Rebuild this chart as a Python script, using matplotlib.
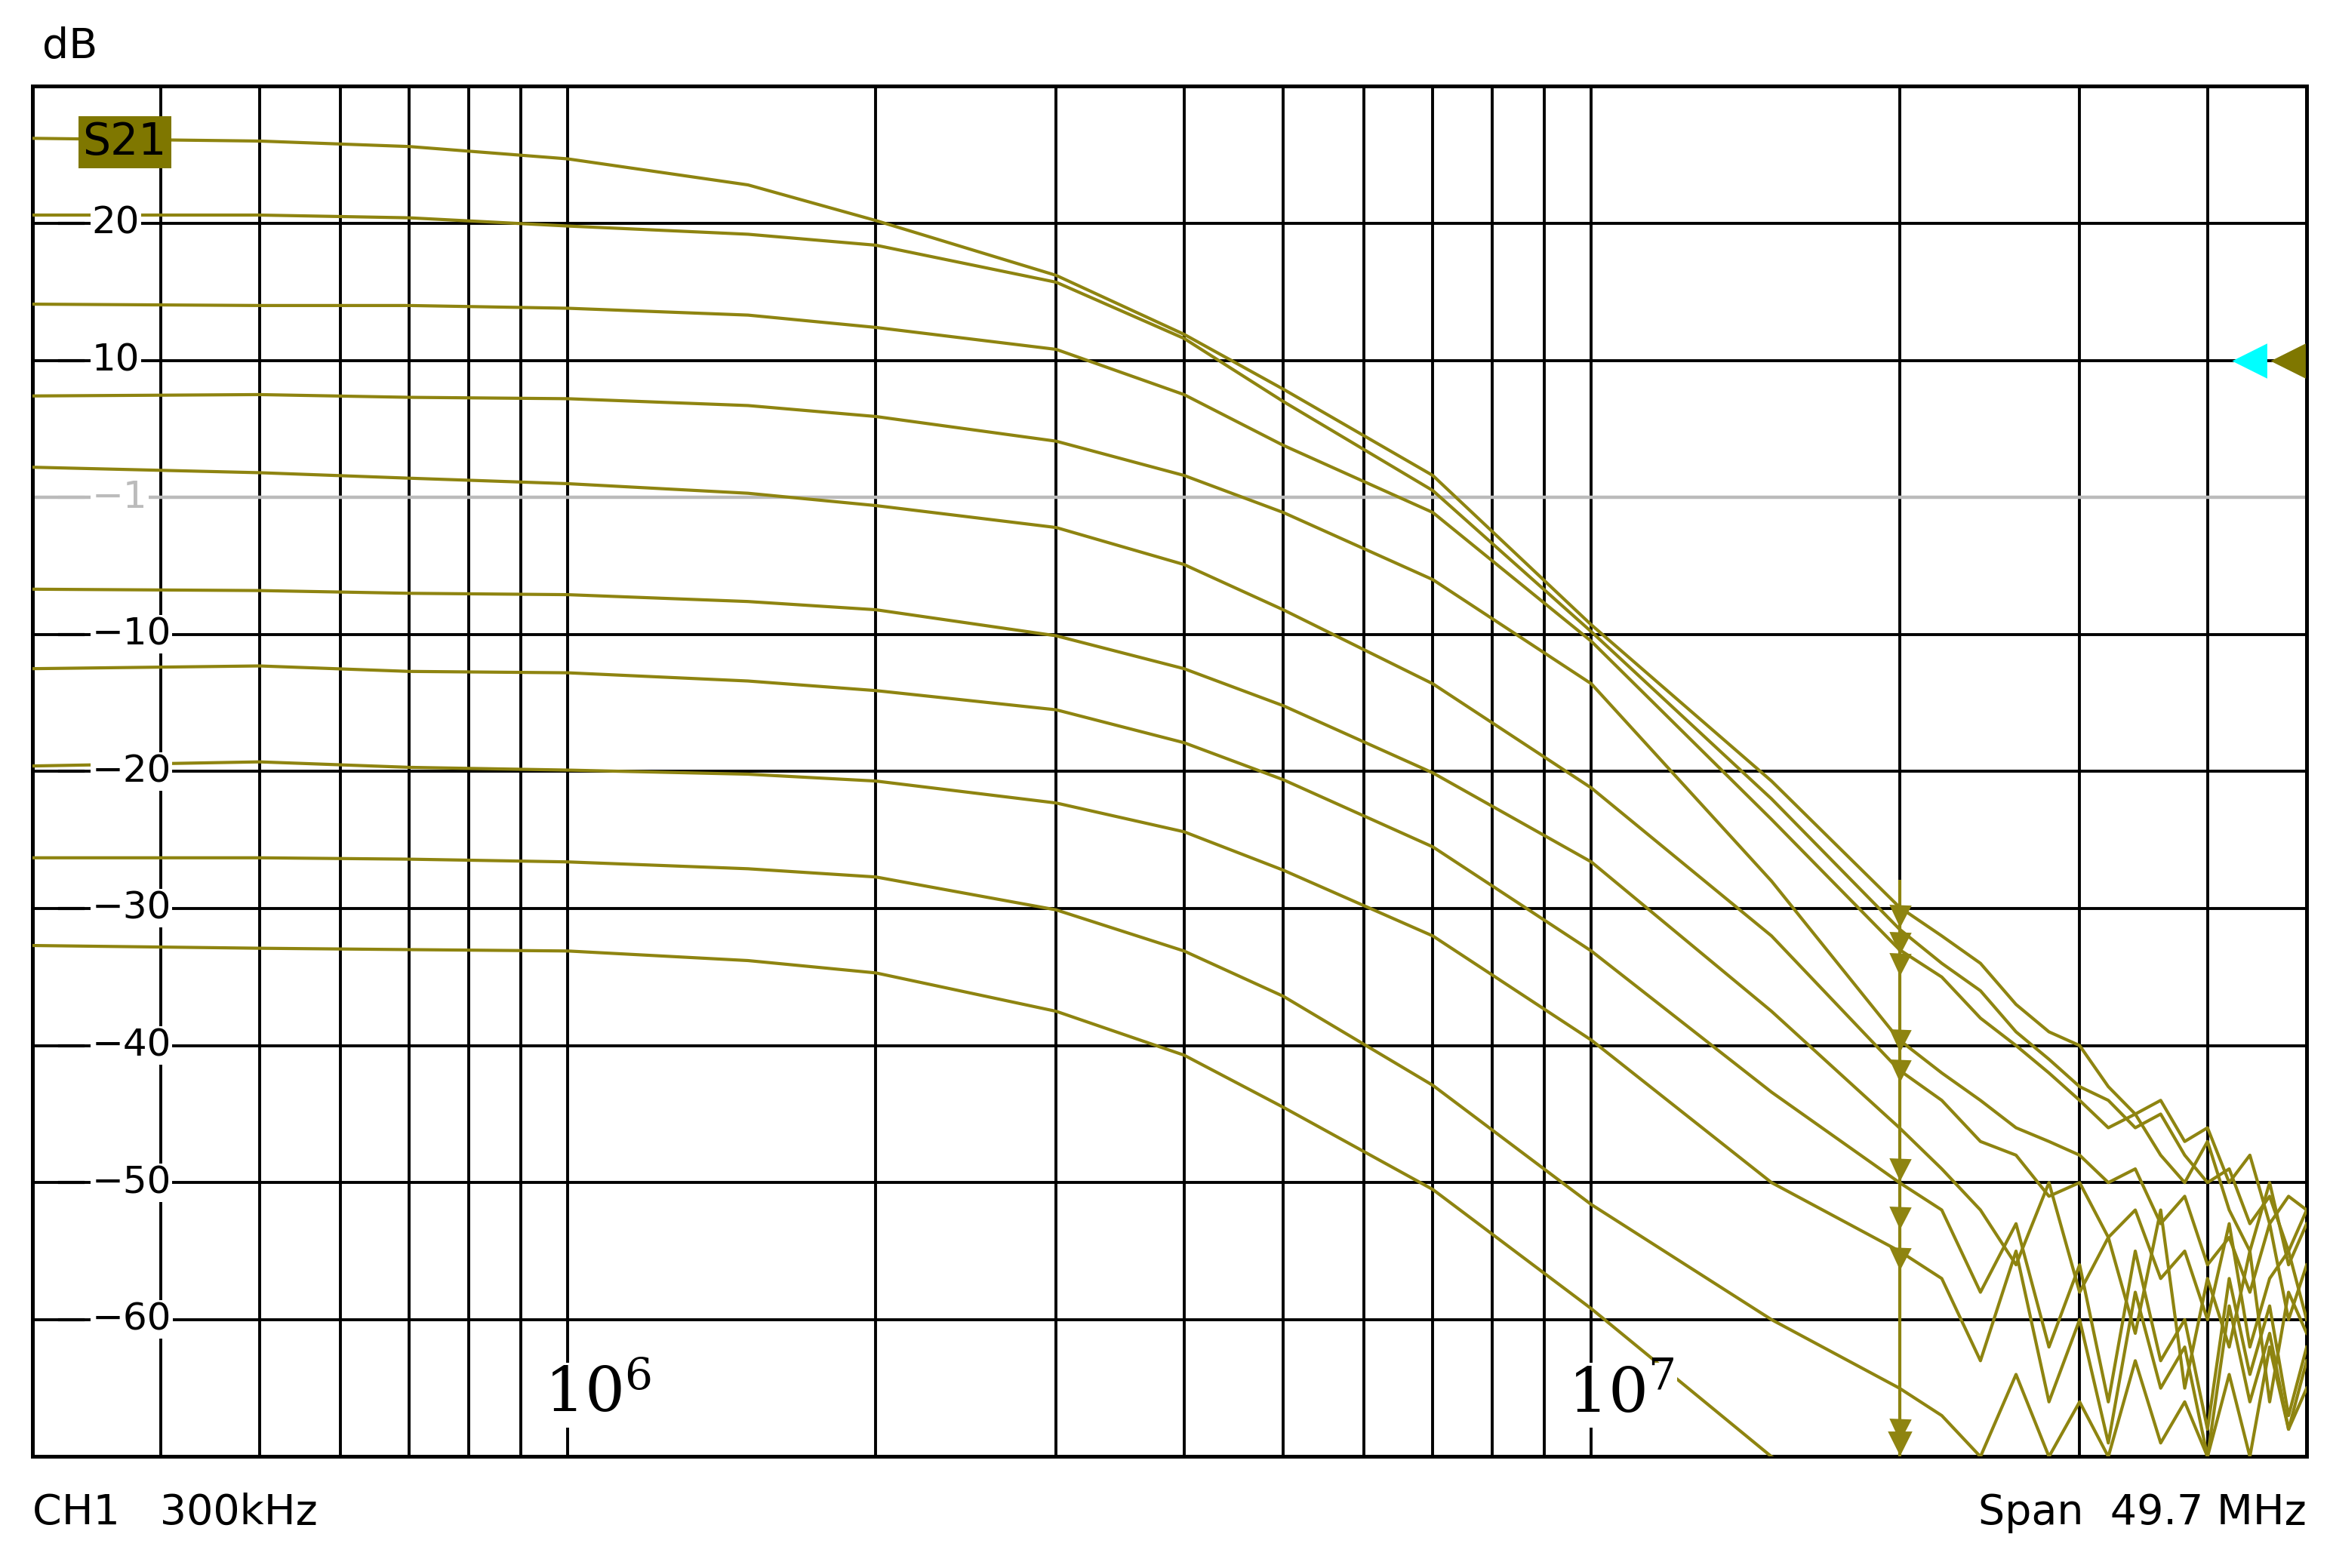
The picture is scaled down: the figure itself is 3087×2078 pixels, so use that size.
import matplotlib
matplotlib.use("Agg")
import matplotlib.pyplot as plt
import numpy as np

plt.rcParams["mathtext.fontset"] = "dejavuserif"

# frequencies (Hz) for the smooth part of each trace
freqs = [3e5, 5e5, 7e5, 1e6, 1.5e6, 2e6, 3e6, 4e6, 5e6, 7e6, 1e7, 1.5e7, 2e7]
curve_a = [26.2, 26.0, 25.6, 24.7, 22.8, 20.2, 16.2, 11.9, 7.9, 1.6, -9.3, -20.7, -29.9]
curve_b = [20.6, 20.6, 20.4, 19.8, 19.2, 18.4, 15.7, 11.6, 7.0, 0.5, -9.8, -22.0, -31.5]
curve_c = [14.1, 14.0, 14.0, 13.8, 13.3, 12.4, 10.8, 7.5, 3.8, -1.1, -10.5, -23.5, -33.0]
curve_d = [7.4, 7.5, 7.3, 7.2, 6.7, 5.9, 4.1, 1.6, -1.1, -6.0, -13.6, -28.0, -39.6]
curve_e = [2.2, 1.8, 1.4, 1.0, 0.3, -0.6, -2.2, -4.9, -8.2, -13.6, -21.2, -32.0, -41.8]
curve_f = [-6.7, -6.8, -7.0, -7.1, -7.6, -8.2, -10.1, -12.5, -15.2, -20.1, -26.6, -37.5, -46.0]
curve_g = [-12.5, -12.3, -12.7, -12.8, -13.4, -14.1, -15.5, -17.9, -20.6, -25.5, -33.1, -43.4, -50.0]
curve_h = [-19.6, -19.3, -19.7, -19.9, -20.2, -20.7, -22.3, -24.4, -27.2, -32.0, -39.6, -50.0, -55.0]
curve_i = [-26.3, -26.3, -26.4, -26.6, -27.1, -27.7, -30.1, -33.1, -36.4, -42.9, -51.6, -60.0, -65.0]
curve_j = [-32.7, -32.9, -33.0, -33.1, -33.8, -34.7, -37.5, -40.7, -44.5, -50.5, -59.2, -70.0, -75.0]

# noisy tails beyond 20 MHz (hand-read values)
tail_f = [2.2e7, 2.4e7, 2.6e7, 2.8e7, 3.0e7, 3.2e7, 3.4e7, 3.6e7, 3.8e7, 4.0e7, 4.2e7, 4.4e7, 4.6e7, 4.8e7, 5.0e7]
tail_a = [-32, -34, -37, -39, -40, -43, -45, -44, -47, -46, -50, -48, -53, -51, -52]
tail_b = [-34, -36, -39, -41, -43, -44, -46, -45, -48, -50, -49, -53, -51, -55, -52]
tail_c = [-35, -38, -40, -42, -44, -46, -45, -48, -50, -47, -52, -55, -50, -56, -53]
tail_d = [-42, -44, -46, -47, -48, -50, -49, -53, -51, -56, -54, -58, -53, -60, -56]
tail_e = [-44, -47, -48, -51, -50, -54, -52, -57, -55, -60, -53, -62, -57, -55, -60]
tail_f2 = [-49, -52, -56, -50, -58, -54, -61, -52, -65, -57, -62, -55, -66, -58, -61]
tail_g = [-52, -58, -53, -62, -56, -66, -55, -63, -60, -68, -57, -64, -59, -67, -62]
tail_h = [-57, -63, -55, -66, -60, -69, -58, -65, -62, -70, -59, -66, -61, -68, -63]
tail_i = [-67, -70, -64, -70, -66, -70, -63, -69, -66, -70, -64, -70, -62, -68, -65]

curves = [curve_a, curve_b, curve_c, curve_d, curve_e, curve_f, curve_g, curve_h, curve_i, curve_j]
tails = [tail_a, tail_b, tail_c, tail_d, tail_e, tail_f2, tail_g, tail_h, tail_i, None]
marker_db = [-30.5, -32.5, -34.0, -39.6, -41.8, -49.0, -52.5, -55.5, -68.0, None]

grid_x = [4e5, 5e5, 6e5, 7e5, 8e5, 9e5, 1e6, 2e6, 3e6, 4e6, 5e6, 6e6, 7e6, 8e6, 9e6, 1e7, 2e7, 3e7, 4e7]
y_ticks = [20, 10, 0, -10, -20, -30, -40, -50, -60]
y_labels = ["20", "10", "\u22121", "\u221210", "\u221220", "\u221230", "\u221240", "\u221250", "\u221260"]

olive = "#8e8410"
fig = plt.figure(figsize=(15.435, 10.39), dpi=200)
ax = fig.add_axes([0.014, 0.071, 0.976, 0.874])
ax.set_xscale("log")
ax.set_xlim(3e5, 5e7)
ax.set_ylim(-70, 30)
ax.set_xticks([]); ax.set_xticks([], minor=True); ax.set_yticks([])
for s in ax.spines.values():
    s.set_linewidth(1.8)

for gx in grid_x:
    ax.axvline(gx, color="black", lw=1.4, zorder=1)
for gy in y_ticks:
    if gy == 0:
        ax.axhline(gy, color="#bbbbbb", lw=1.6, zorder=1)
    else:
        ax.axhline(gy, color="black", lw=1.4, zorder=1)

for c, t in zip(curves, tails):
    xs = list(freqs); ys = list(c)
    if t is not None:
        xs += tail_f; ys += t
    ax.plot(xs, ys, color=olive, lw=1.5, zorder=3, clip_on=True)

ax.axvline(2e7, ymin=0.0, ymax=0.42, color=olive, lw=1.5, zorder=4)
for m in marker_db:
    if m is not None:
        ax.plot([2e7], [m], marker="v", color=olive, ms=9, zorder=5)
ax.plot([2e7], [-69], marker="v", color=olive, ms=10, zorder=5)

# tick labels inside the plot
for gy, lab in zip(y_ticks, y_labels):
    col = "#bbbbbb" if gy == 0 else "black"
    ax.plot([0.012, 0.022], [gy, gy], transform=ax.get_yaxis_transform(), color=col, lw=1.5, zorder=6)
    ax.text(0.026, gy, lab, transform=ax.get_yaxis_transform(), ha="left", va="center",
            fontsize=18, color=col, zorder=6,
            bbox=dict(facecolor="white", edgecolor="none", pad=0.5))

ax.text(0.022, 0.975, "S21", transform=ax.transAxes, fontsize=21, va="top", ha="left",
        bbox=dict(facecolor="#7f7700", edgecolor="none", pad=2), zorder=7)

ax.plot([0.975], [10], marker="<", color="cyan", ms=15, transform=ax.get_yaxis_transform(), clip_on=False, zorder=7)
ax.plot([0.992], [10], marker="<", color="#7f7700", ms=15, transform=ax.get_yaxis_transform(), clip_on=False, zorder=7)

ax.text(1.07e6, -65.5, r"$10^6$", fontsize=30, ha="center", va="center",
        bbox=dict(facecolor="white", edgecolor="none", pad=1), zorder=6)
ax.text(1.07e7, -65.5, r"$10^7$", fontsize=30, ha="center", va="center",
        bbox=dict(facecolor="white", edgecolor="none", pad=1), zorder=6)

fig.text(0.018, 0.97, "dB", fontsize=20, va="center")
fig.text(0.014, 0.035, "CH1   300kHz", fontsize=20, va="center")
fig.text(0.99, 0.035, "Span  49.7 MHz", fontsize=20, va="center", ha="right")

fig.savefig("out.png", dpi=200, facecolor="white")
